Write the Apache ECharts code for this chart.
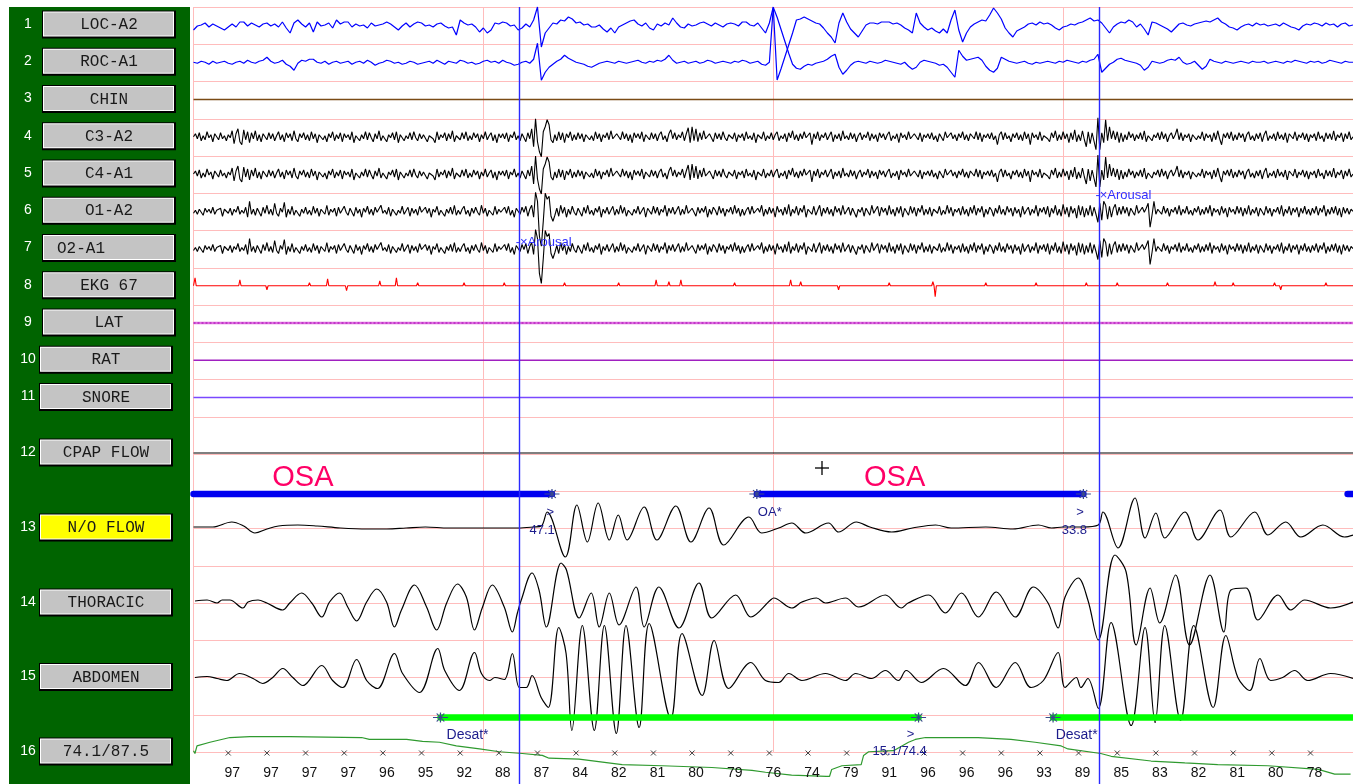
<!DOCTYPE html>
<html>
<head>
<meta charset="utf-8">
<title>PSG 120 s page</title>
<style>
  html, body { margin: 0; padding: 0; background: #ffffff; }
  #chart { width: 1353px; height: 784px; }
</style>
<script src="https://cdn.jsdelivr.net/npm/echarts@6/dist/echarts.min.js"></script>
</head>
<body>
<div id="chart"></div>
<script>
// ---------------------------------------------------------------------------
// Montage, top to bottom
const channelNames = ['LOC-A2', 'ROC-A1', 'CHIN', 'C3-A2', 'C4-A1', 'O1-A2', 'O2-A1', 'EKG 67',
  'LAT', 'RAT', 'SNORE', 'CPAP FLOW', 'N/O FLOW', 'THORACIC', 'ABDOMEN', '74.1/87.5'];

// SpO2 readouts printed along the time axis (seconds into the page)
const spo2TickTimes = [3.6, 7.6, 11.6, 15.6, 19.6, 23.6, 27.6, 31.6, 35.6, 39.6, 43.6, 47.6, 51.6, 55.6, 59.6,
  63.6, 67.6, 71.6, 75.6, 79.6, 83.6, 87.6, 91.6, 95.6, 99.6, 103.6, 107.6, 111.6, 115.6];
const spo2TickLabels = ['97', '97', '97', '97', '96', '95', '92', '88', '87', '84', '82', '81', '80', '79', '76',
  '74', '79', '91', '96', '96', '96', '93', '89', '85', '83', '82', '81', '80', '78'];

// Scored events, [start s, end s]
const osaEvents = [[-10.0, 37.1], [58.3, 92.1], [119.44, 120]];
const desatEvents = [[25.56, 75.04], [88.96, 120]];
const arousalTimes = [33.72, 93.72];

// Sample spacing of the stored traces (s)
const EEG_DT = 0.2;
const EOG_DT = 0.4;

// Eye channels, one value every 0.4 s
const locSignal = [
  -5,-1,0,2,-2,1,-1,-3,-5,-2, 1,-2,3,3,-1,2,0,-2,1,2, -1,1,-2,3,-3,-8,2,5,1,-2, 2,-7,3,-1,0,2,-3,5,1,3,
  3,-2,1,-1,0,-3,2,-1,0,1, 3,1,-2,-5,-1,2,-2,1,3,2, -1,0,-2,1,2,-1,-3,-2,-10,5, 2,0,1,-2,-7,-3,-8,-5,2,1,
  3,2,-1,0,-5,-3,1,-2,5,18, -22,-8,-3,2,1,5,4,8,6,2, 3,0,1,-2,-2,0,-4,-7,-3,-8, -2,0,2,4,5,1,-1,2,-3,-5,
  1,-1,2,0,7,2,-2,-3,1,-1, 0,2,3,1,-1,2,0,-2,1,2, 1,-1,3,3,0,-1,2,-3,-8,2, 18,-55,-44,-32,-20,-8,5,6,8,6,
  4,2,1,-3,-8,-12,-18,2,12,3, -4,-8,-12,-6,0,2,2,1,3,3, 3,1,2,0,-3,-5,-8,12,2,-2, -5,-3,-6,-8,-4,-8,5,15,-5,-17,
  -8,-2,1,3,5,4,10,17,12,6, -3,-8,-12,-6,-4,-2,1,2,0,3, 1,2,0,-3,-5,-2,-1,1,0,2, 3,5,7,4,5,2,-3,-8,-2,1,
  3,2,5,3,-2,1,-4,-10,3,2, 0,-2,-4,-7,-3,1,2,0,-1,1, 2,3,4,3,5,7,3,1,-2,-3, -5,-2,0,1,-1,2,0,1,-1,0,
  1,-1,2,0,-2,-3,-5,-1,1,0, 2,1,-1,2,0,1,-2,1,2,-1, 0
];
const rocSignal = [
  0,-1,1,0,-2,1,-1,0,1,-1, -2,0,1,-1,2,0,-1,1,2,5, 1,-1,0,2,-2,-4,-8,-1,2,1, 3,3,0,-1,1,-2,0,1,-1,0,
  1,-2,0,1,-1,2,0,-3,-1,0, 2,1,-1,0,-2,-1,1,0,-2,-1, 0,1,-1,2,0,-2,1,0,-1,2, 1,-1,0,-2,-1,1,2,0,1,-1,
  2,0,-1,-3,-2,0,1,-1,3,19, -18,-10,-5,-2,1,3,7,4,2,0, -1,-2,-4,-5,-3,-1,0,1,0,-1, 1,0,-1,0,1,2,0,-1,1,0,
  2,1,3,7,2,-1,0,1,-1,0, 1,-1,0,2,1,-1,0,1,0,-1, 1,0,2,1,-1,0,1,-2,-3,0, 55,45,33,21,9,-2,-6,-7,-4,-2,
  -3,-1,0,1,3,6,8,-5,-12,-8, -3,0,1,0,-1,1,0,-1,0,2, 1,0,-1,-2,0,-4,-7,-5,0,2, 1,0,-1,-3,-2,-5,-10,-15,12,6,
  2,3,4,5,2,-4,-8,-10,-6,5, 3,1,0,-1,0,1,-1,-2,0,-1, 0,1,0,-1,1,0,2,1,0,-1, 1,0,2,3,8,-10,-6,-2,0,3,
  4,2,1,0,-1,-3,-8,-5,1,0, -1,0,2,3,2,5,0,-2,-1,1, -3,-7,-4,3,1,0,-1,1,0,-1, 0,1,0,-1,1,0,0,1,-1,0,
  1,0,-1,1,0,2,1,0,-1,1, 0,1,-1,0,2,1,0,-1,1,0, 0
];

// Central EEG (C3-A2 / C4-A1 read alike), one value every 0.2 s
const eegCentral = [
  0,3,-2,4,-4,1,-3,5,-1,2,-5,3,0,-3,4,-2,1,-4,2,-1,
  6,-7,3,8,-5,-8,7,-3,5,-6,4,-2,6,-4,2,-5,3,0,-3,4,
  -2,3,-4,1,5,-3,2,-5,4,-1,3,-4,6,-2,-5,3,-1,4,-3,2,
  -4,5,-2,3,-6,2,4,-3,1,-5,3,-1,5,-4,2,-2,4,-5,3,-1,
  2,-3,5,-6,1,3,-4,2,-2,5,-3,4,-1,-5,3,-2,6,-4,1,3,
  -5,2,-1,4,-3,5,-6,2,3,-4,1,-2,4,-3,5,-1,-4,3,-2,2,
  4,-5,1,3,-2,-6,5,-3,2,-1,4,-4,3,-2,6,-5,1,2,-3,4,
  -2,5,-4,1,-3,4,-1,3,-5,2,-2,5,-3,1,4,-4,2,-6,3,-1,
  3,-2,4,-5,2,-1,5,-3,1,-4,3,2,-5,4,-2,8,-10,18,-5,-15,
  -20,5,10,17,12,-3,-6,2,-4,5,-3,4,-6,3,-1,5,-4,2,-3,4,
  -2,3,-5,2,4,-3,1,-4,5,-2,3,-5,2,-1,4,-3,6,-2,-4,3,
  1,-3,5,-2,3,-4,2,-6,4,-1,3,-2,5,-5,2,1,-3,4,-2,3,
  -4,2,5,-3,1,-5,3,7,-2,4,-3,2,-1,5,-4,3,9,-6,10,-4,
  8,-5,4,-3,6,-2,-4,3,1,-5,4,-2,3,-3,5,-1,-4,2,3,-2,
  4,-5,2,-1,3,-4,5,-2,1,-3,4,-6,2,3,-2,5,-4,1,-2,4,
  -3,2,5,-4,1,-2,3,-5,4,-1,6,-3,2,-4,3,-2,5,-1,-3,4,
  -8,3,-2,5,-4,2,-1,4,-3,1,5,-5,2,-2,3,-4,6,-2,1,-3,
  4,-2,3,-5,1,4,-3,2,-1,5,-4,3,-2,2,-5,4,-1,3,-3,2,
  5,-4,1,-2,3,-6,4,-1,2,-3,5,-2,-4,3,1,-3,4,-5,2,-1,
  3,-2,4,-3,1,-5,3,2,-4,5,-1,-3,4,-2,2,-4,3,-1,5,-3,
  2,-4,3,1,-2,5,-3,4,-5,2,-1,3,-2,4,-3,1,-8,2,5,-3,
  4,-2,1,-5,3,-1,4,-3,2,-4,5,-2,3,-8,4,-1,2,-3,5,-4,
  1,3,-2,-5,4,-1,6,-4,2,-3,5,-2,3,-6,4,-3,7,-5,2,-4,
  6,-3,-10,5,-7,4,6,-13,19,-13,4,-6,17,-4,10,-2,6,-3,5,-6,
  4,-5,2,-3,5,-1,3,-4,2,-2,4,-3,6,-5,1,3,-4,2,-1,4,
  -3,5,-2,3,-5,1,4,-2,2,8,-3,4,-4,2,-1,3,-5,2,4,-3,
  1,-2,5,-4,3,-1,2,-5,4,-3,6,-2,-8,3,-1,4,-2,5,-4,2,
  -3,4,-1,3,-5,2,5,-3,1,-4,3,-2,4,-5,2,6,-4,1,-2,3,
  -4,5,-2,2,-3,4,-6,3,1,-2,5,-4,2,-1,4,-3,3,-5,2,-1,
  3,-4,5,-2,1,-5,4,-2,3,-3,6,-4,2,-1,4,-5,3,-2,5,-3,
  0
];

// Occipital EEG (O1-A2 / O2-A1 read alike), one value every 0.2 s
const eegOccipital = [
  -2,1,-3,2,0,-4,3,-1,2,-2,4,-3,1,-1,3,-5,2,0,-2,3,
  -4,2,-1,5,-3,1,-2,4,-6,10,-3,2,-4,3,-1,-5,4,-2,6,-3,
  2,-4,8,-2,-5,3,-1,9,-6,2,-3,5,-4,1,3,-5,2,-2,4,-3,
  1,-4,5,-2,3,-5,2,1,-3,6,-4,2,-1,3,-5,4,-2,-3,5,-1,
  -4,3,1,-5,4,-2,2,-6,3,-1,5,-3,2,-4,4,-1,-3,6,-2,1,
  -3,4,-5,2,3,-4,1,-2,5,-3,-1,4,-5,3,-2,2,-4,5,-1,-3,
  4,-2,3,-6,2,-1,5,-4,1,3,-5,2,-2,4,-3,6,-4,1,-3,2,
  5,-3,1,-5,3,-2,4,-1,-4,6,-2,3,-5,1,2,-4,5,-3,2,-1,
  -3,4,-2,5,-4,1,-6,3,2,-3,4,-1,5,-5,2,6,-6,19,10,-25,
  -35,-10,18,12,15,-5,-10,-4,3,-5,6,-2,4,-6,2,-3,5,-1,-4,3,
  2,-5,4,-2,6,-3,1,-4,3,-1,5,-6,2,-2,4,-3,-1,5,-4,2,
  -3,6,-2,4,-5,1,3,-4,2,-2,5,-3,-1,4,-6,3,1,-3,5,-2,
  4,-4,2,-1,6,-5,3,-2,4,-3,1,5,-4,2,-3,6,-2,-4,3,1,
  -5,4,-2,3,-1,5,-6,2,-3,4,1,-4,5,-2,3,-5,2,-1,4,-3,
  6,-2,3,-5,2,-4,1,4,-3,5,-2,-4,3,-1,6,-5,2,-3,4,-2,
  3,-6,5,-1,2,-4,4,-3,7,-5,2,-2,5,-4,3,-1,6,-6,2,4,
  -3,5,-4,1,6,-5,3,-2,4,-3,2,-5,5,-1,3,-4,6,-3,-2,4,
  -4,3,5,-6,2,-1,4,-5,3,2,-4,6,-2,-3,5,-5,4,-1,3,-4,
  6,-3,2,-5,4,-2,5,-6,3,1,-4,5,-2,4,-5,3,-1,6,-4,2,
  -3,4,-5,2,3,-2,5,-4,1,-3,6,-2,4,-5,2,-1,3,-4,5,-3,
  2,-5,4,-2,6,-4,3,-1,5,-6,2,-3,4,1,-5,3,-2,6,-3,2,
  -4,5,-1,3,-5,4,-2,2,-6,5,-3,1,4,-4,2,-2,6,-5,3,-1,
  4,-3,5,-6,3,-2,6,-4,2,-5,7,-3,4,-6,5,-2,3,-7,6,-4,
  5,-6,3,-4,6,-5,4,-3,-11,8,-9,10,6,-8,5,-6,3,7,-4,4,
  -3,5,-2,4,-5,3,1,-4,6,-2,-3,4,-1,3,8,-16,-4,10,-3,2,
  4,-3,5,-2,3,-5,2,-1,4,-3,6,-4,2,-2,5,-3,1,-4,3,-1,
  5,-4,2,-3,4,-2,6,-5,3,-1,2,-4,5,-2,3,-6,4,-1,2,-3,
  5,-2,4,-5,3,-3,6,-4,2,-2,4,-5,3,1,-4,5,-2,3,-5,2,
  -1,4,-3,6,-5,2,-2,5,-4,3,-1,4,-6,3,-2,5,-3,2,-4,3,
  -2,5,-4,3,-1,6,-5,2,-3,4,-2,5,-4,3,-6,4,-2,3,-3,2,
  0
];

// EKG R waves, [time s, deflection]
const ekgBeats = [
  [0.16, 8], [2.4, 2], [4.8, 6], [7.6, -4], [9.6, 2], [12, 3], [13.88, 7], [15.84, -5], [17.6, 2], [19.28, 5],
  [21, 8], [23.2, 3], [25.2, 2], [28, 3], [30, -2], [32.16, 3], [34, 2], [38.4, 3], [41.2, 2], [44, 3],
  [46.4, 2], [47.88, 6], [49.2, 4], [50.44, 6], [52.8, 2], [56, 3], [58.4, 2], [61.8, 6], [62.84, 4], [66.76, -4],
  [69.2, 2], [72, 3], [74.4, 2], [76.52, 4], [76.76, -11], [79.2, 2], [82, 3], [84.8, 2], [87.2, 3], [90, 2],
  [92.4, 3], [95.6, 3], [98.4, 2], [100.8, 3], [103.2, 2], [105.72, 4], [107.6, 3], [109.6, 2], [111.88, 3],
  [112.52, -4], [114.8, 2], [117.2, 3], [119.2, 2]
];

// Channels that stay on their baseline over this page
const flatTrace = [[0, 0], [120, 0]];

// Respiratory effort and airflow, turning points [time s, deflection]
const nasalFlow = [
  [0, 1], [2, 1], [3.96, 6], [5.2, 2], [6.36, -5], [7.6, -1], [8.8, 2], [10.8, 3], [12.8, 2], [15.2, 0],
  [18, -1], [20, -1], [22, 0], [24, 1], [26.4, 0], [28.8, 0], [32, 0], [33.6, 0], [35.2, 1], [36, 2],
  [36.6, 16], [38.48, -29], [39.68, 23], [40.76, -14], [41.88, 25], [43.04, -12], [43.96, 13], [44.88, -12],
  [46.64, 21], [47.96, -12], [49.92, 22], [51.48, -14], [53.36, 20], [54.88, -17], [57.48, 11], [58.8, -5],
  [60.56, 0], [61.92, 5], [63.36, -5], [65.72, 5], [66.76, -4], [68.6, 6], [70, 1], [72.24, -4], [74.4, 0],
  [76.8, 3], [78.4, 0], [82, 1], [84.8, -1], [87.44, 3], [88.8, 0], [90, 1], [92, 1], [93.64, 3], [94.12, 16],
  [95.68, -20], [97.44, 30], [98.48, -10], [99.6, 15], [100.52, -10], [102.6, 16], [103.96, -12], [106.24, 18],
  [107.36, -9], [109.84, 16], [111.2, -7], [113.04, 6], [114.6, -9], [116.88, 3], [119.12, -9], [120, -7]
];
const thoracicEffort = [
  [0.16, 2], [1.4, 3], [2.44, 0], [2.96, 3], [3.76, 3], [5.12, -5], [5.64, 1], [6.68, 3], [7.59, 0], [9.24, -7],
  [9.96, 0], [11.2, 10], [12.24, 0], [13.28, -14], [14.08, 1], [15.12, 10], [15.96, -4], [16.88, -18], [17.92, 1],
  [18.96, 14], [19.98, 1], [20.8, -24], [21.52, -7], [22.88, 18], [24.12, -4], [25.16, -27], [26.2, 0], [27.32, 19],
  [28.24, 6], [29.08, -27], [29.88, -5], [30.92, 18], [32.16, -4], [33, -29], [33.52, -10], [33.92, 3], [35.04, 30],
  [35.76, 13], [36.52, -24], [38.04, 40], [38.6, 33], [39.92, -15], [41.16, 10], [41.99, -24], [43.04, 10],
  [44.04, -22], [45.8, 16], [46.64, -24], [48.16, 16], [50.24, -25], [52.32, 20], [53.64, -15], [56.12, 8],
  [57.68, -14], [59.72, 3], [60.04, 5], [61.92, -5], [62.96, 1], [64.48, 5], [65.4, 0], [67.48, 5], [68.84, -4],
  [71.6, 8], [73.24, -5], [73.96, 0], [76.08, 8], [77.8, -10], [79.48, 10], [81.24, -14], [83.08, 11], [85.04, -14],
  [86.92, 16], [88.44, 0], [89.48, -25], [90.2, 6], [91.56, 25], [92.56, 3], [93.64, -37], [95.36, 48], [96.52, 31],
  [97.56, -42], [99, 15], [100, -20], [101.64, 28], [103.08, -42], [105.2, 28], [106.64, -29], [107.36, 13],
  [108.92, 15], [110.16, -17], [112.24, 8], [113.56, -7], [115, 3], [117.68, -5], [120, 1]
];
const abdominalEffort = [
  [0.16, 0], [1.4, 1], [2.44, -1], [3.44, -3], [4.76, 4], [6.16, -1], [7.16, -6], [8.2, 0], [9.24, 9], [10.28, 0],
  [11.32, -8], [13.28, 12], [14.4, -3], [15.44, -10], [16.88, 18], [17.92, -3], [19.04, -11], [20.8, 24], [21.64, 4],
  [23.4, -15], [25.28, 29], [26, 7], [27.52, -13], [29.08, 25], [29.8, 4], [30.64, -3], [31.2, 0], [32.16, -2],
  [33, 24], [33.72, -10], [34.44, -10], [35.04, 2], [35.98, -20], [36.72, -30], [37.8, 50], [38.56, 24],
  [39.16, -53], [40.24, 52], [41.48, -53], [42.52, 52], [43.76, -56], [44.76, 52], [46.12, -50], [47.16, 54],
  [49.4, -41], [50.56, 44], [52.64, -18], [53.88, 37], [55.4, -11], [57.68, 15], [59.2, -3], [60.56, -5], [61.6, 4],
  [62.96, -3], [65.4, 4], [67.48, -3], [68.52, 4], [70.16, -1], [71.6, 7], [72.96, -3], [73.76, 7], [75.32, -5],
  [77.6, 9], [79.88, -8], [81.24, 15], [83.08, -10], [85.04, 15], [86.68, -10], [87.96, -3], [89.48, 25], [90.2, -10],
  [91.36, 0], [91.84, -10], [92.56, -1], [93.64, -31], [94.96, 55], [97.04, -48], [98.48, 50], [99.52, -45],
  [100.52, 52], [102.16, -43], [103.52, 52], [105.52, -30], [106.84, 42], [108.08, 0], [109.32, -13], [110.36, 19],
  [111.48, -3], [112.72, 0], [113.96, 7], [115.32, -3], [117.68, 4], [120, -1]
];

// Oxygen saturation (%), [time s, SpO2]
const spo2Trace = [
  [0, 89], [0.15, 87.4], [0.36, 91.7], [1.7, 93.8], [3.77, 96.5], [5.84, 97], [9.97, 97], [17.4, 96.5], [18.2, 95.4],
  [22.05, 95.4], [23.7, 94.3], [25.46, 93.8], [27.2, 91.7], [29.6, 90], [31.66, 88.4], [34.03, 87.4], [36.1, 86.3],
  [36.8, 84.7], [39.9, 84.2], [44.36, 81], [48.5, 80.4], [53.65, 79.4], [57.8, 77.8], [59.2, 76.7], [61.9, 75.1],
  [65.5, 74.4], [65.83, 74.4], [66.05, 78.3], [67.1, 80.4], [69.1, 81], [69.35, 86.3], [69.87, 88.4], [72.45, 89],
  [74, 93.8], [74.7, 95.4], [75.76, 96.5], [81.2, 96.5], [84.6, 95.4], [87.1, 93.8], [89.8, 91.7], [90.5, 90],
  [93.9, 87.4], [94.97, 85.8], [99.1, 83.1], [102.6, 82], [106, 81], [111.2, 80.4], [116.4, 78.3], [118.1, 75.6],
  [119.75, 75.6]
];

// ---------------------------------------------------------------------------
// Page layout
const T_MAX = 120;
const PLOT_LEFT = 193.5;
const PLOT_WIDTH = 1162;
const ROW_CENTER = [25, 62.25, 99.5, 136.75, 174, 211.25, 248.5, 285.75, 323, 360.25, 397.5, 453, 528, 603, 677.5, 752];
const PINK = '#ffbcbc';
const NOTE_COLOR = '#1c1c8c';
const SANS = '"Liberation Sans", Arial, sans-serif';

const grid = [], xAxis = [], yAxis = [], series = [];

function addGrid(top, height, yMin, yMax) {
  const i = grid.length;
  grid.push({ left: PLOT_LEFT, top: top, width: PLOT_WIDTH, height: height });
  xAxis.push({ gridIndex: i, type: 'value', min: 0, max: T_MAX, show: false });
  yAxis.push({ gridIndex: i, type: 'value', min: yMin, max: yMax, show: false });
  return i;
}

// Chart paper: pink 30-s epoch lines and channel rules
const paper = grid.length;
grid.push({ left: PLOT_LEFT, top: 7, width: PLOT_WIDTH, height: 745 });
xAxis.push({
  gridIndex: paper, type: 'value', min: 0, max: T_MAX, interval: 30,
  axisLine: { show: false }, axisTick: { show: false }, axisLabel: { show: false },
  splitLine: { show: true, lineStyle: { color: PINK, width: 1, opacity: 1 } }
});
yAxis.push({
  gridIndex: paper, type: 'value', min: 0, max: 20, interval: 1, inverse: true,
  axisLine: { show: false }, axisTick: { show: false }, axisLabel: { show: false },
  splitLine: { show: true, lineStyle: { color: PINK, width: 1, opacity: 1 } }
});
series.push({ type: 'line', xAxisIndex: paper, yAxisIndex: paper, data: [], silent: true });

// One grid per channel; one unit of deflection is one screen pixel
const chanGrid = ROW_CENTER.slice(0, 15).map(c => addGrid(c - 20, 40, -20, 20));
const spo2Grid = addGrid(737 - 3 * 1.87, 30 * 1.87, 70, 100);
const tickGrid = addGrid(743, 20, -10, 10);
const cursorGrid = addGrid(7, 777, 0, 1);

function trace(ch, data, color, width, extra) {
  series.push(Object.assign({
    type: 'line', xAxisIndex: chanGrid[ch], yAxisIndex: chanGrid[ch], data: data,
    showSymbol: false, symbol: 'none', clip: false, silent: true, animation: false,
    lineStyle: { color: color, width: width }, z: 2
  }, extra || {}));
}

const sampled = (arr, dt) => arr.map((v, i) => [+(i * dt).toFixed(2), v]);

function ekgTrace(beats) {
  const pts = [[0, 0]];
  beats.forEach(([t, a]) => { pts.push([t - 0.12, 0], [t, a], [t + 0.12, 0]); });
  pts.push([T_MAX, 0]);
  return pts;
}

trace(0, sampled(locSignal, EOG_DT), '#0000ff', 1.2);
trace(1, sampled(rocSignal, EOG_DT), '#0000ff', 1.2);
trace(2, flatTrace, '#7a4a14', 1.5);
trace(3, sampled(eegCentral, EEG_DT), '#000000', 1.1);
trace(4, sampled(eegCentral, EEG_DT), '#000000', 1.1);
trace(5, sampled(eegOccipital, EEG_DT), '#000000', 1.1);
trace(6, sampled(eegOccipital, EEG_DT), '#000000', 1.1);
trace(7, ekgTrace(ekgBeats), '#ff0000', 1.1);
trace(8, flatTrace, '#e070e0', 2.6);
trace(8, flatTrace, '#a000b0', 1.2, { lineStyle: { color: '#a000b0', width: 1.2, type: [2, 2] } });
trace(9, flatTrace, '#a020c0', 1.4);
trace(10, flatTrace, '#7a48ff', 1.4);
trace(11, flatTrace, '#000000', 1.2);
trace(12, nasalFlow, '#000000', 1.2, { smooth: 0.35 });
trace(13, thoracicEffort, '#000000', 1.2, { smooth: 0.35 });
trace(14, abdominalEffort, '#000000', 1.2, { smooth: 0.35 });

series.push({
  type: 'line', xAxisIndex: spo2Grid, yAxisIndex: spo2Grid, data: spo2Trace, showSymbol: false,
  symbol: 'none', clip: false, silent: true, animation: false,
  lineStyle: { color: '#2f9a2f', width: 1.2 }, z: 2
});

// Scored event bars
const OSA_LANE = 34, DESAT_LANE = -40;
function eventBars(ch, events, lane, color) {
  events.forEach(([s, e]) => {
    series.push({
      type: 'line', xAxisIndex: chanGrid[ch], yAxisIndex: chanGrid[ch],
      data: [[Math.max(0, s), lane], [Math.min(T_MAX, e), lane]],
      showSymbol: false, symbol: 'none', clip: false, silent: true, animation: false,
      lineStyle: { color: color, width: 6.5, cap: 'round' }, z: 3
    });
  });
}
eventBars(12, osaEvents, OSA_LANE, '#0000f0');
eventBars(14, desatEvents, DESAT_LANE, '#00ff00');

// Event edge markers
const STAR = 'path://M0,6L16,6M8,1L8,11M4,2L12,10M12,2L4,10';
function edgeMarks(ch, times, lane) {
  series.push({
    type: 'scatter', xAxisIndex: chanGrid[ch], yAxisIndex: chanGrid[ch],
    data: times.map(t => [t, lane]), symbol: STAR, symbolSize: [15, 10], clip: false, silent: true,
    itemStyle: { color: 'none', borderColor: '#3a4a8a', borderWidth: 1, opacity: 1 }, z: 4, animation: false
  });
}
edgeMarks(12, [osaEvents[0][1], osaEvents[1][0], osaEvents[1][1]], OSA_LANE);
edgeMarks(14, [desatEvents[0][0], desatEvents[0][1], desatEvents[1][0]], DESAT_LANE);

// Text notes anchored on the time axis
function notes(ch, items, font) {
  series.push({
    type: 'scatter', xAxisIndex: ch, yAxisIndex: ch, symbolSize: 1, clip: false, silent: true,
    itemStyle: { color: 'transparent', opacity: 1 }, z: 6, animation: false,
    data: items.map(n => ({
      value: [n.t, n.v],
      label: Object.assign({ show: true, position: 'inside', formatter: n.text, opacity: 1,
        textBorderWidth: 0 }, font, n.font || {})
    }))
  });
}
const small = { fontFamily: SANS, fontSize: 13, color: NOTE_COLOR };
notes(chanGrid[12], [
  { t: 36.08, v: -2, text: '47.1' },
  { t: 36.92, v: 16, text: '>' },
  { t: 59.64, v: 16, text: 'OA*' },
  { t: 91.76, v: 16, text: '>' },
  { t: 91.16, v: -2, text: '33.8' },
  { t: 11.32, v: 50, text: 'OSA', font: { fontSize: 29, color: '#ff0066' } },
  { t: 72.56, v: 50, text: 'OSA', font: { fontSize: 29, color: '#ff0066' } }
], small);
notes(chanGrid[14], [
  { t: 28.36, v: -57.5, text: 'Desat*', font: { fontSize: 14 } },
  { t: 91.4, v: -57.5, text: 'Desat*', font: { fontSize: 14 } },
  { t: 74.2, v: -56.5, text: '>' },
  { t: 73.08, v: -74, text: '15.1/74.4' }
], small);
notes(chanGrid[6], [{ t: 36.24, v: 6.5, text: '-×Arousal' }], { fontFamily: SANS, fontSize: 13, color: '#3030ff' });
notes(chanGrid[5], [{ t: 96.24, v: 16, text: '-×Arousal' }], { fontFamily: SANS, fontSize: 13, color: '#3030ff' });

// SpO2 readouts under the trace
series.push({
  type: 'scatter', xAxisIndex: tickGrid, yAxisIndex: tickGrid, clip: false, silent: true, animation: false,
  data: spo2TickTimes.map(t => [t, 0]),
  symbol: 'path://M0,0L10,10M10,0L0,10', symbolSize: 5,
  itemStyle: { color: 'none', borderColor: '#404040', borderWidth: 1, opacity: 1 },
  label: {
    show: true, position: 'bottom', distance: 8, offset: [4, 0], opacity: 1, textBorderWidth: 0,
    formatter: p => spo2TickLabels[p.dataIndex], fontFamily: SANS, fontSize: 14, color: '#111111'
  }, z: 4
});

// Arousal cursor lines
series.push({
  type: 'line', xAxisIndex: cursorGrid, yAxisIndex: cursorGrid, data: [], silent: true,
  markLine: {
    symbol: 'none', silent: true, animation: false, label: { show: false },
    lineStyle: { color: '#2a2aff', width: 1.4, type: 'solid', opacity: 1 },
    data: arousalTimes.map(t => ({ xAxis: t }))
  }, z: 5
});

// ---------------------------------------------------------------------------
// Channel button panel
const graphic = [
  { type: 'rect', shape: { x: 9, y: 7, width: 181, height: 777 }, style: { fill: '#006400' }, silent: true }
];
channelNames.forEach((name, i) => {
  const cy = ROW_CENTER[i];
  const bx = i < 9 ? 43 : 40, bw = 132, bh = 26, by = cy - 13.5;
  const face = i === 12 ? '#ffff00' : '#c4c4c4';
  graphic.push(
    { type: 'text', silent: true, style: {
      text: String(i + 1), x: 28, y: cy - 1, fill: '#ffffff', font: '14px ' + SANS,
      textAlign: 'center', textVerticalAlign: 'middle' } },
    { type: 'rect', silent: true, shape: { x: bx - 1, y: by - 1, width: bw + 2, height: bh + 2 }, style: { fill: '#000000' } },
    { type: 'rect', silent: true, shape: { x: bx, y: by, width: bw - 1, height: bh - 1 }, style: { fill: '#ffffff' } },
    { type: 'rect', silent: true, shape: { x: bx + 1, y: by + 1, width: bw - 3, height: bh - 3 }, style: { fill: face } },
    { type: 'text', silent: true, style: {
      text: name, x: name === 'O2-A1' ? bx + 14 : bx + bw / 2, y: cy,
      fill: '#1a1a1a', font: '16px "Liberation Mono", "Courier New", monospace',
      textAlign: name === 'O2-A1' ? 'left' : 'center', textVerticalAlign: 'middle' } }
  );
});
// Pointer cross
graphic.push(
  { type: 'line', silent: true, shape: { x1: 815, y1: 468, x2: 829, y2: 468 }, style: { stroke: '#000', lineWidth: 1.3 } },
  { type: 'line', silent: true, shape: { x1: 822, y1: 461, x2: 822, y2: 475 }, style: { stroke: '#000', lineWidth: 1.3 } }
);

const chart = echarts.init(document.getElementById('chart'), null, { renderer: 'canvas', width: 1353, height: 784 });
chart.setOption({
  animation: false,
  backgroundColor: '#ffffff',
  grid: grid,
  xAxis: xAxis,
  yAxis: yAxis,
  series: series,
  graphic: graphic
});
</script>
</body>
</html>
